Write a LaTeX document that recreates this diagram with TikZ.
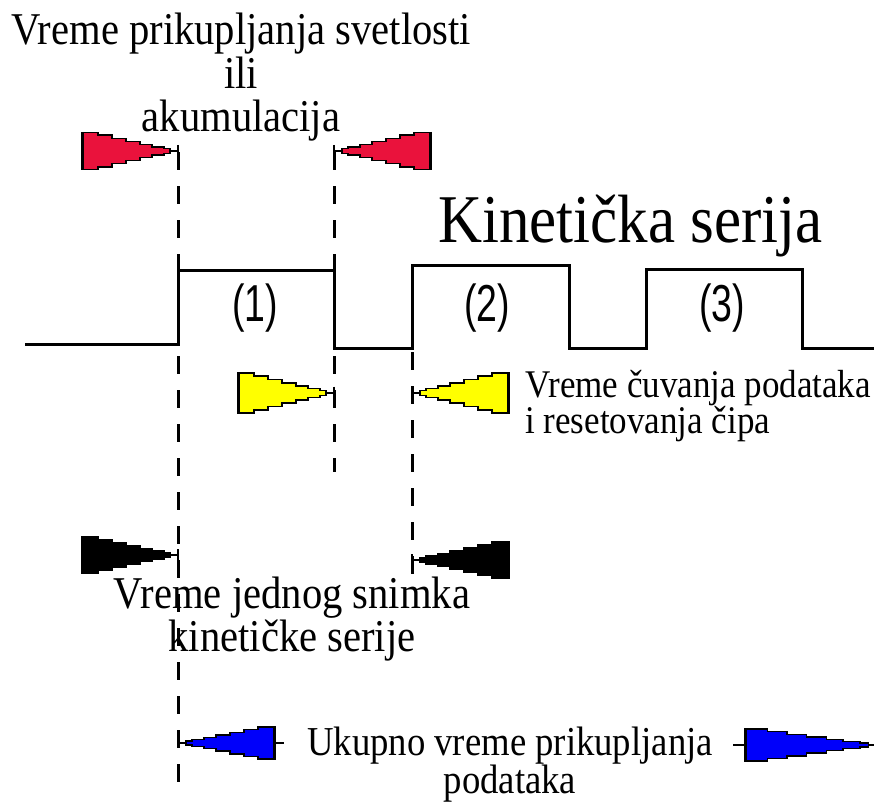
\documentclass[tikz,border=0pt]{standalone}
\usepackage{fontspec}
\usepackage{graphicx}
\setmainfont{Liberation Serif}
\newfontfamily\numfont{Liberation Sans}
\newcommand{\tallt}[1]{\scalebox{1}[1.12]{#1}}
\definecolor{conered}{RGB}{234,18,60}
\definecolor{coneyellow}{RGB}{255,255,0}
\definecolor{coneblue}{RGB}{0,0,250}
\tikzset{
  pics/cone/.style={code={
    \draw[line width=1.4pt, fill=#1, line join=miter]
      (0,-20) -- (16,-20) -- (16,-17) -- (30,-17) -- (30,-13.5) -- (44,-13.5) -- (44,-10) -- (58,-10)
      -- (58,-7) -- (70,-7) -- (70,-4.5) -- (82,-4.5) -- (82,-2.5) -- (88,-2.5)
      -- (88,2.5) -- (82,2.5) -- (82,4.5) -- (70,4.5) -- (70,7) -- (58,7) -- (58,10) -- (44,10)
      -- (44,13.5) -- (30,13.5) -- (30,17) -- (16,17) -- (16,20) -- (0,20) -- cycle;
    \draw[line width=3pt] (0,-20.7) -- (0,20.7);
    \draw[line width=2.6pt] (88,0) -- (96,0);
    \draw[line width=2.6pt] (96,-6.5) -- (96,6.5);
  }},
  wave/.style={line width=3pt, line join=miter},
  guide/.style={line width=3pt, dash pattern=on 18pt off 16pt},
  stub/.style={line width=2.6pt},
  lbl40/.style={font=\fontsize{40.6}{44}\selectfont, inner sep=0pt, anchor=base},
  lblbig/.style={font=\fontsize{61}{66}\selectfont, inner sep=0pt, anchor=base west},
  lbl35/.style={font=\fontsize{35}{38}\selectfont, inner sep=0pt, anchor=base west},
  lbl37/.style={font=\fontsize{36.7}{40}\selectfont, inner sep=0pt, anchor=base},
  num/.style={font=\numfont\fontsize{52}{54}\selectfont, inner sep=0pt, xscale=0.72}
}
\begin{document}
\begin{tikzpicture}[x=1pt,y=-1pt]
\useasboundingbox (0,0) rectangle (874,803);
\fill[white] (0,0) rectangle (874,803);

% guide lines
\coordinate (g1t) at (178,152); \coordinate (g1b) at (178,788);
\coordinate (g2t) at (334,152); \coordinate (g2b) at (334,472);
\coordinate (g3t) at (412,352); \coordinate (g3b) at (412,582);
\draw[guide] (g1t) -- (g1b);
\draw[guide] (g2t) -- (g2b);
\draw[guide] (g3t) -- (g3b);

% waveform
\coordinate (w0) at (25,344);
\coordinate (w1) at (178,344);
\coordinate (w2) at (178,270);
\coordinate (w3) at (334,270);
\coordinate (w4) at (334,348);
\coordinate (w5) at (412,348);
\coordinate (w6) at (412,265);
\coordinate (w7) at (569,265);
\coordinate (w8) at (569,348);
\coordinate (w9) at (646,348);
\coordinate (w10) at (646,269);
\coordinate (w11) at (802,269);
\coordinate (w12) at (802,348);
\coordinate (w13) at (874,348);
\draw[wave] (w0) -- (w1) -- (w2) -- (w3) -- (w4) -- (w5) -- (w6) -- (w7) -- (w8) -- (w9) -- (w10) -- (w11) -- (w12) -- (w13);

\node[num] (n1) at (255,308) {(1)};
\node[num] (n2) at (487,308) {(2)};
\node[num] (n3) at (722,308) {(3)};

% cones
\pic[yscale=0.93] (redL) at (82,151) {cone=conered};
\pic[xscale=-1, yscale=0.93] (redR) at (430,151) {cone=conered};
\pic (yelL) at (238,393) {cone=coneyellow};
\pic[xscale=-1] (yelR) at (508,393) {cone=coneyellow};
\pic[yscale=0.9] (blkL) at (82,555) {cone=black};
\pic[xscale=-1, yscale=0.9] (blkR) at (508,560) {cone=black};
\coordinate (bl) at (274,743); \coordinate (bls) at (284,743);
\pic[xscale=-1, yscale=0.8] (bluL) at (bl) {cone=coneblue};
\draw[stub] (bl) -- (bls);
\coordinate (br) at (745,745); \coordinate (brs) at (733,745);
\pic[xscale=1.4, yscale=0.8] (bluR) at (br) {cone=coneblue};
\draw[stub] (brs) -- (br);

% texts
\node[lbl40] (t1a) at (241,44) {\tallt{Vreme prikupljanja svetlosti}};
\node[lbl40] (t1b) at (241,88) {\tallt{ili}};
\node[lbl40] (t1c) at (241,131) {\tallt{akumulacija}};
\node[lblbig] (t2) at (438,242) {\tallt{Kinetička serija}};
\node[lbl35] (t3a) at (525,397) {\tallt{Vreme čuvanja podataka}};
\node[lbl35] (t3b) at (525,433) {\tallt{i resetovanja čipa}};
\node[lbl40] (t4a) at (292,608) {\tallt{Vreme jednog snimka}};
\node[lbl40] (t4b) at (292,651) {\tallt{kinetičke serije}};
\node[lbl37] (t5a) at (510,755) {\tallt{Ukupno vreme prikupljanja}};
\node[lbl37] (t5b) at (510,793) {\tallt{podataka}};
\end{tikzpicture}
\end{document}
